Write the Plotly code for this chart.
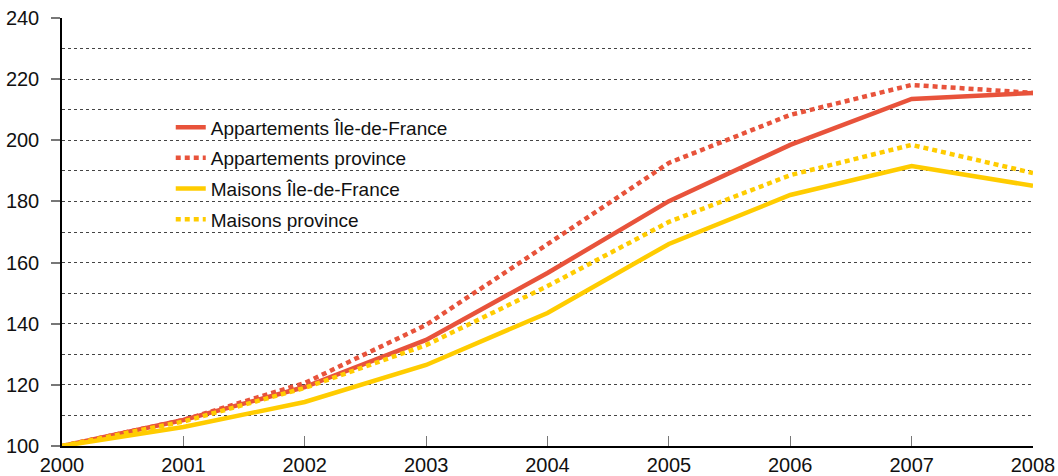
import plotly.graph_objects as go

years = [2000, 2001, 2002, 2003, 2004, 2005, 2006, 2007, 2008]

apparts_idf = [100, 108.5, 119.3, 134.7, 156.6, 180.1, 198.5, 213.5, 215.5]
apparts_prov = [100, 108.5, 120.6, 139.6, 166.0, 192.6, 208.3, 218.1, 215.5]
maisons_idf = [100, 106.2, 114.4, 126.5, 143.5, 166.1, 182.1, 191.6, 185.1]
maisons_prov = [100, 108.0, 119.0, 133.0, 152.3, 173.3, 188.6, 198.5, 189.3]

y_ticks = [100, 120, 140, 160, 180, 200, 220, 240]

RED = "#E8533B"
YELLOW = "#FFCC00"
FONT = "Liberation Sans, Arial"
DOTTED = "5px,4px"

series = [
    ("Appartements Île-de-France", apparts_idf, RED, "solid"),
    ("Appartements province", apparts_prov, RED, DOTTED),
    ("Maisons Île-de-France", maisons_idf, YELLOW, "solid"),
    ("Maisons province", maisons_prov, YELLOW, DOTTED),
]

fig = go.Figure()
for i, (name, vals, color, dash) in enumerate(series):
    fig.add_trace(go.Scatter(
        x=years, y=vals, name=name, mode="lines", legendgroup=f"g{i}",
        line=dict(color=color, width=4.5, dash=dash),
    ))

fig.update_layout(
    width=1058, height=476,
    margin=dict(l=62, r=25, t=18, b=30),
    paper_bgcolor="white", plot_bgcolor="white",
    font=dict(family=FONT, size=20, color="#111"),
    showlegend=True,
    legend=dict(
        x=0.112, y=0.789, xanchor="left", yanchor="top",
        bgcolor="rgba(0,0,0,0)", font=dict(size=19, family=FONT, color="#111"),
        tracegroupgap=3,
    ),
)

fig.update_xaxes(
    range=[2000, 2008], tickvals=years, ticktext=[str(y) for y in years],
    showline=True, linecolor="black", linewidth=1.5,
    ticks="inside", ticklen=10, tickcolor="#777", tickwidth=1,
    showgrid=False, zeroline=False, automargin=False,
    tickfont=dict(size=20, family=FONT),
)
fig.update_yaxes(
    range=[100, 240], tickvals=y_ticks,
    showline=True, linecolor="black", linewidth=1.5,
    ticks="outside", ticklen=9, tickcolor="#777", tickwidth=2,
    showgrid=True, gridcolor="#444", griddash="3px,3px", gridwidth=1,
    minor=dict(dtick=10, tick0=100, showgrid=True, gridcolor="#444",
               griddash="3px,3px", gridwidth=1, ticks=""),
    zeroline=False, automargin=False,
    tickfont=dict(size=20, family=FONT),
    ticklabelstandoff=8,
)

fig.write_html("out.html")
